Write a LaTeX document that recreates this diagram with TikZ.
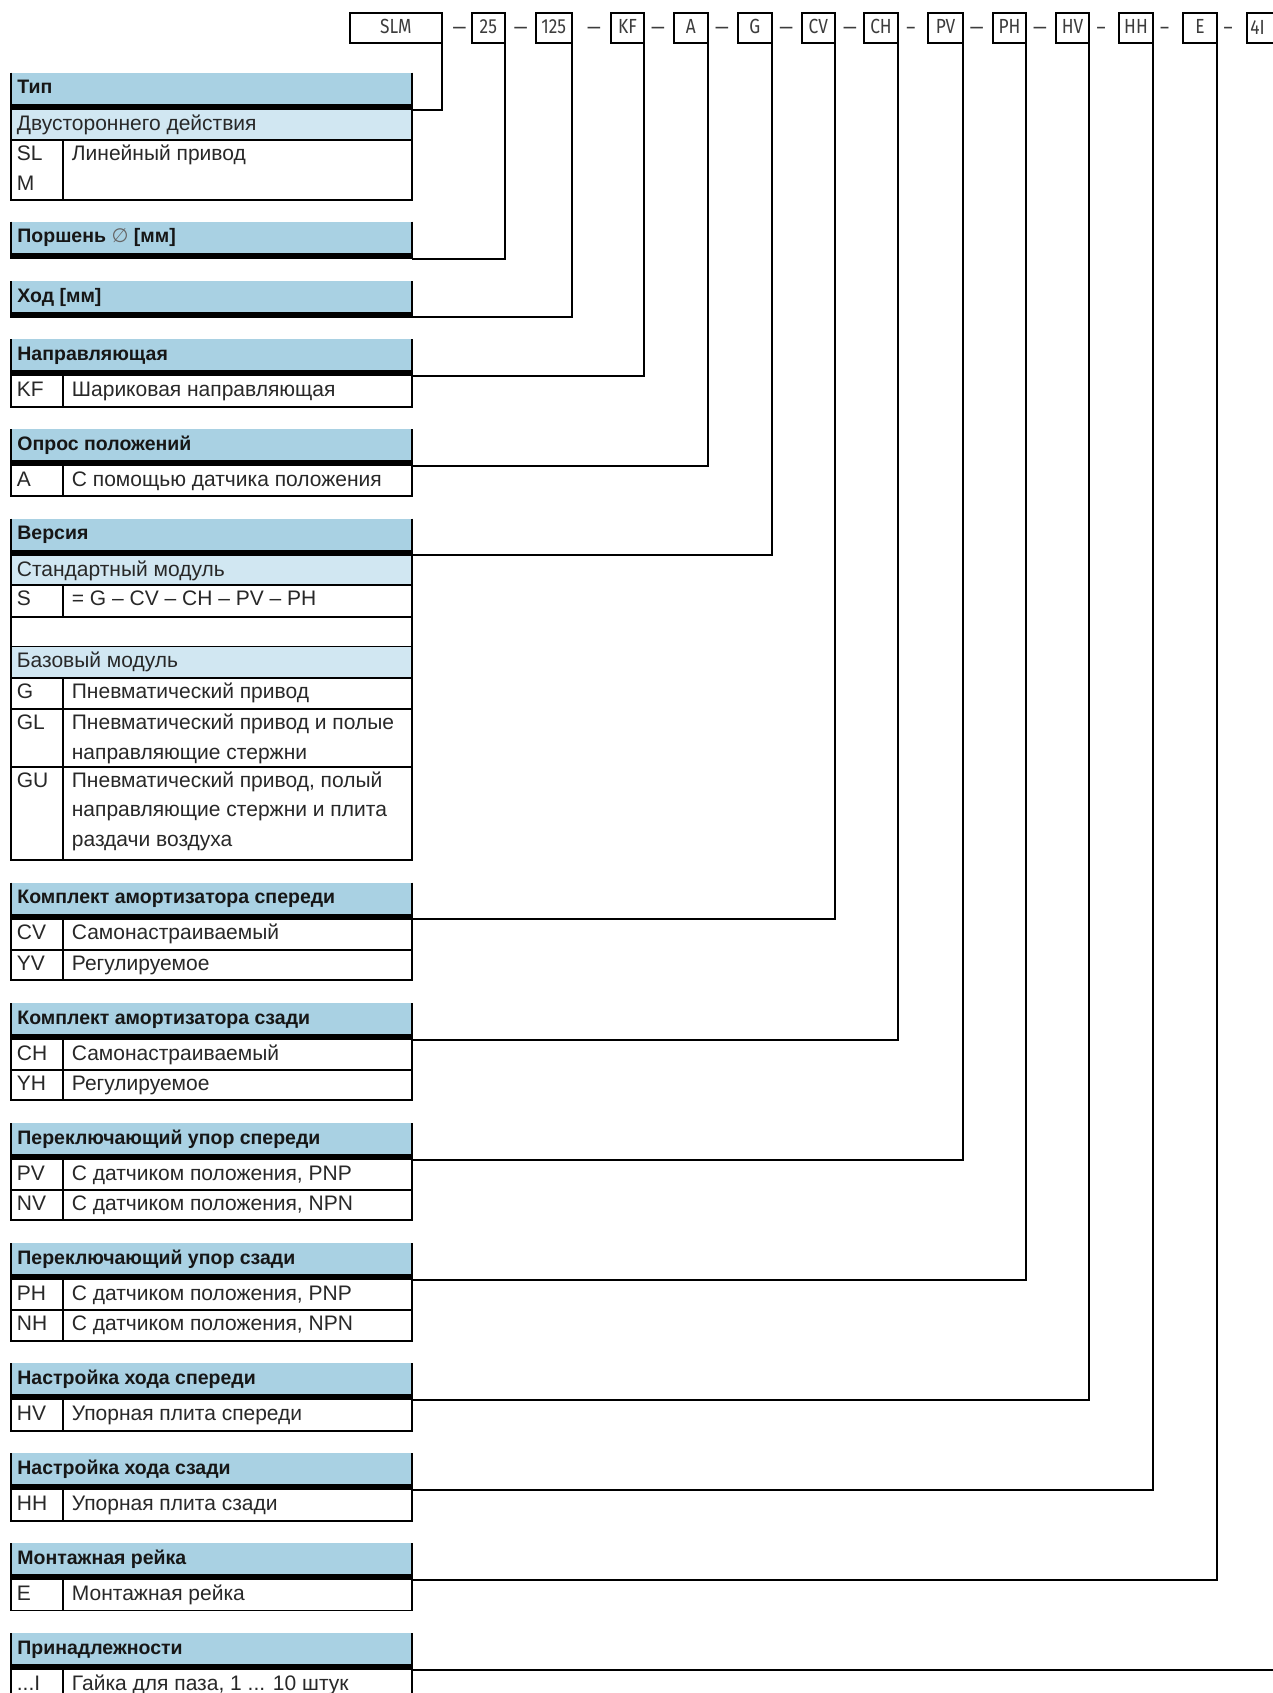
\documentclass[tikz,border=0pt]{standalone}
\usepackage{fontspec}
\setmainfont{Liberation Sans}
\newfontfamily\condfont[FakeStretch=0.85]{Fira Sans}
\newfontfamily\symfont{DejaVu Sans}
\definecolor{hdrblue}{RGB}{169,209,227}
\definecolor{subblue}{RGB}{209,231,242}
\definecolor{bodytext}{RGB}{40,40,40}
\definecolor{hdrtextc}{RGB}{22,22,22}
\definecolor{boxtext}{RGB}{60,60,60}
\tikzset{
  tline/.style={line width=0.85pt, draw=black},
  conn/.style={line width=1pt, draw=black},
  hdrtxt/.style={anchor=base west, inner sep=0pt, text=hdrtextc, font=\fontsize{9.75}{12}\selectfont\bfseries},
  bodytxt/.style={anchor=base west, inner sep=0pt, text=bodytext, font=\fontsize{10.5}{12}\selectfont},
  codebox/.style={draw=black, line width=1pt, outer sep=0pt, inner sep=0pt, minimum height=15pt, anchor=north west, text height=6.6pt, text depth=1.2pt, text=boxtext, font=\condfont\fontsize{10.2}{12}\selectfont},
  dashtxt/.style={anchor=base, inner sep=0pt, text=boxtext, font=\condfont\fontsize{10.2}{12}\selectfont},
}
\newcommand\THdr[3]{%
  \fill[hdrblue] (11,#2) rectangle (412,#2+31);
  \fill[black] (10.2,#2+31) rectangle (412.8,#2+37);
  \draw[tline] (11,#2) -- (11,#2+31) (412,#2) -- (412,#2+31);
  \node[hdrtxt] (#1) at (17,#2+21) {#3};
}
\newcommand\TSub[4]{%
  \fill[subblue] (11,#2) rectangle (412,#3);
  \draw[tline] (11,#2) -- (11,#3) -- (412,#3) -- (412,#2);
  \node[bodytxt] (#1) at (16.5,#2+20.5) {#4};
}
\newcommand\TRow[5]{%
  \draw[tline] (11,#2) -- (11,#3) -- (412,#3) -- (412,#2) (63,#2) -- (63,#3);
  \node[bodytxt] (#1c) at (16.5,#2+20.5) {#4};
  \node[bodytxt] (#1d) at (71.5,#2+20.5) {#5};
}
\newcommand\CBox[4]{%
  \node[codebox, minimum width={(#3-#2)*0.5pt}] (#1) at (#2,13) {#4};
}
\begin{document}
\begin{tikzpicture}[x=0.5pt,y=-0.5pt]
\useasboundingbox (0,0) rectangle (1273,1693);
\clip (0,0) rectangle (1273,1693);
\fill[white] (0,0) rectangle (1273,1693);

% ---- code boxes ----
\CBox{bSLM}{350}{441.7}{SLM}
\CBox{b25}{471.7}{505}{25}
\CBox{b125}{535.7}{571.7}{125}
\CBox{bKF}{611}{644}{KF}
\CBox{bA}{674}{707.7}{A}
\CBox{bG}{738}{771.7}{G}
\CBox{bCV}{801.7}{835}{CV}
\CBox{bCH}{864}{898}{CH}
\CBox{bPV}{928}{963}{PV}
\CBox{bPH}{993}{1026}{PH}
\CBox{bHV}{1056}{1089}{HV}
\CBox{bHH}{1119}{1153}{HH}
\CBox{bE}{1183}{1217}{E}
\CBox{bAcc}{1247}{1281}{}
\node[dashtxt, anchor=base west] (tAcc) at (1250,34) {4I};

\node[dashtxt] (d1) at (459.5,34) {—};
\node[dashtxt] (d2) at (520.8,34) {—};
\node[dashtxt] (d3) at (594,34) {—};
\node[dashtxt] (d4) at (658,34) {—};
\node[dashtxt] (d5) at (722,34) {—};
\node[dashtxt] (d6) at (786.3,34) {—};
\node[dashtxt] (d7) at (850,34) {—};
\node[dashtxt] (d8) at (911,34) {–};
\node[dashtxt] (d9) at (976.7,34) {—};
\node[dashtxt] (d10) at (1040,34) {—};
\node[dashtxt] (d11) at (1101,34) {–};
\node[dashtxt] (d12) at (1164.5,34) {–};
\node[dashtxt] (d13) at (1228,34) {–};

% ---- Тип ----
\THdr{hTyp}{72.7}{Тип}
\TSub{sTyp}{109.7}{140}{Двустороннего действия}
\TRow{rSLM}{140}{200}{SL}{Линейный привод}
\node[bodytxt] (rSLMc2) at (16.5,190.5) {M};

% ---- Поршень ----
\THdr{hPor}{221.7}{Поршень {\symfont\mdseries\color{black!60}∅} [мм]}

% ---- Ход ----
\THdr{hHod}{281}{Ход [мм]}

% ---- Направляющая ----
\THdr{hNap}{339}{Направляющая}
\TRow{rKF}{375.5}{407}{KF}{Шариковая направляющая}

% ---- Опрос положений ----
\THdr{hOpr}{429}{Опрос положений}
\TRow{rA}{465.5}{496}{A}{С помощью датчика положения}

% ---- Версия ----
\THdr{hVer}{518.5}{Версия}
\TSub{sStd}{555.5}{585}{Стандартный модуль}
\TRow{rS}{585}{616.7}{S}{= G – CV – CH – PV – PH}
\draw[tline] (11,616.7) -- (11,647.3) -- (412,647.3) -- (412,616.7);
\TSub{sBas}{647.3}{678.3}{Базовый модуль}
\TRow{rG}{678.3}{709}{G}{Пневматический привод}
\TRow{rGL}{709}{766.7}{GL}{Пневматический привод и полые}
\node[bodytxt] (rGLd2) at (71.5,759) {направляющие стержни};
\TRow{rGU}{766.7}{860}{GU}{Пневматический привод, полый}
\node[bodytxt] (rGUd2) at (71.5,816.5) {направляющие стержни и плита};
\node[bodytxt] (rGUd3) at (71.5,846) {раздачи воздуха};

% ---- Комплект амортизатора спереди ----
\THdr{hKsp}{882.7}{Комплект амортизатора спереди}
\TRow{rCV}{919.2}{950}{CV}{Самонастраиваемый}
\TRow{rYV}{950}{980}{YV}{Регулируемое}

% ---- Комплект амортизатора сзади ----
\THdr{hKsz}{1003.3}{Комплект амортизатора сзади}
\TRow{rCH}{1039.8}{1070}{CH}{Самонастраиваемый}
\TRow{rYH}{1070}{1100}{YH}{Регулируемое}

% ---- Переключающий упор спереди ----
\THdr{hPsp}{1123.3}{Переключающий упор спереди}
\TRow{rPV}{1159.8}{1190}{PV}{С датчиком положения, PNP}
\TRow{rNV}{1190}{1220}{NV}{С датчиком положения, NPN}

% ---- Переключающий упор сзади ----
\THdr{hPsz}{1243.3}{Переключающий упор сзади}
\TRow{rPH}{1279.8}{1310}{PH}{С датчиком положения, PNP}
\TRow{rNH}{1310}{1340.7}{NH}{С датчиком положения, NPN}

% ---- Настройка хода спереди ----
\THdr{hNsp}{1363.3}{Настройка хода спереди}
\TRow{rHV}{1399.8}{1430.7}{HV}{Упорная плита спереди}

% ---- Настройка хода сзади ----
\THdr{hNsz}{1453.3}{Настройка хода сзади}
\TRow{rHH}{1489.8}{1520.7}{HH}{Упорная плита сзади}

% ---- Монтажная рейка ----
\THdr{hMon}{1543.3}{Монтажная рейка}
\TRow{rE}{1579.8}{1610.5}{E}{Монтажная рейка}

% ---- Принадлежности ----
\THdr{hAcc}{1633.3}{Принадлежности}
\TRow{rI}{1669.8}{1702}{...I}{Гайка для паза, 1 ... 10 штук}

% ---- connector end points ----
\coordinate (cTyp) at (412,109.5);
\coordinate (cPor) at (412,258.5);
\coordinate (cHod) at (412,317);
\coordinate (cNap) at (412,375.5);
\coordinate (cOpr) at (412,465.5);
\coordinate (cVer) at (412,555);
\coordinate (cKsp) at (412,919);
\coordinate (cKsz) at (412,1039.5);
\coordinate (cPsp) at (412,1159.5);
\coordinate (cPsz) at (412,1279.5);
\coordinate (cNsp) at (412,1399.5);
\coordinate (cNsz) at (412,1489.5);
\coordinate (cMon) at (412,1579.5);
\coordinate (cAcc) at (412,1669.5);

\draw[conn] (bSLM.south east) |- (cTyp);
\draw[conn] (b25.south east) |- (cPor);
\draw[conn] (b125.south east) |- (cHod);
\draw[conn] (bKF.south east) |- (cNap);
\draw[conn] (bA.south east) |- (cOpr);
\draw[conn] (bG.south east) |- (cVer);
\draw[conn] (bCV.south east) |- (cKsp);
\draw[conn] (bCH.south east) |- (cKsz);
\draw[conn] (bPV.south east) |- (cPsp);
\draw[conn] (bPH.south east) |- (cPsz);
\draw[conn] (bHV.south east) |- (cNsp);
\draw[conn] (bHH.south east) |- (cNsz);
\draw[conn] (bE.south east) |- (cMon);
\draw[conn] (bAcc.south east) |- (cAcc);
\end{tikzpicture}
\end{document}
